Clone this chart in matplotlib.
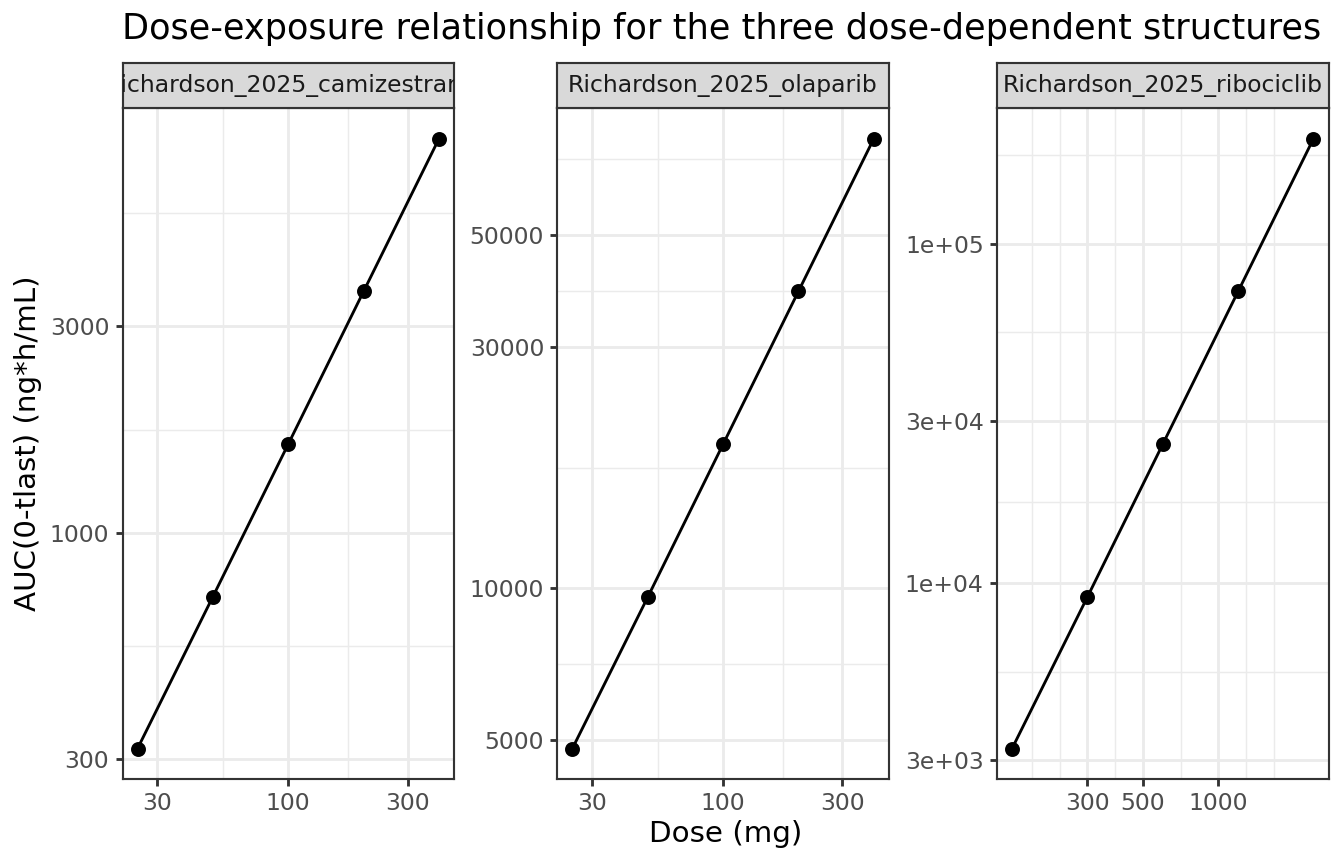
import numpy as np
import matplotlib.pyplot as plt


TITLE = "Dose-exposure relationship for the three dose-dependent structures"
PANEL_NAMES = [
    "Richardson_2025_camizestrant",
    "Richardson_2025_olaparib",
    "Richardson_2025_ribociclib",
]

# values
camizestrant_dose = [25, 50, 100, 200, 400]
camizestrant_auc = [318, 713, 1604, 3612, 8130]
olaparib_dose = [25, 50, 100, 200, 400]
olaparib_auc = [4820, 9600, 19260, 38640, 77430]
ribociclib_dose = [150, 300, 600, 1200, 2400]
ribociclib_auc = [3254, 9095, 25640, 72270, 203600]

x_breaks = [[30, 100, 300], [30, 100, 300], [300, 500, 1000]]
x_labels = [["30", "100", "300"], ["30", "100", "300"], ["300", "500", "1000"]]
y_breaks = [[300, 1000, 3000], [5000, 10000, 30000, 50000], [3000, 10000, 30000, 100000]]
y_labels = [
    ["300", "1000", "3000"],
    ["5000", "10000", "30000", "50000"],
    ["3e+03", "1e+04", "3e+04", "1e+05"],
]

GRID = "#EBEBEB"
DARK = "#333333"
TICK_TEXT = "#4D4D4D"
STRIP_FILL = "#D9D9D9"

W, H = 1344, 864


def log_limits(values):
    lo, hi = np.log10(min(values)), np.log10(max(values))
    pad = 0.05 * (hi - lo)
    return 10 ** (lo - pad), 10 ** (hi + pad)


def minor_breaks(breaks):
    # ggplot-style: extend by the first step, then add midpoints (log space)
    b = np.log10(breaks)
    step = b[1] - b[0]
    b = np.concatenate([[b[0] - step], b, [b[-1] + step]])
    mids = (b[:-1] + b[1:]) / 2
    return list(10 ** np.concatenate([[b[0], b[-1]], mids]))


doses = [camizestrant_dose, olaparib_dose, ribociclib_dose]
aucs = [camizestrant_auc, olaparib_auc, ribociclib_auc]
panel_left = [122.5, 557.3, 997.0]
panel_w = 331.5
panel_top, panel_bottom = 108.3, 779.0
strip_top = 62.7

fig = plt.figure(figsize=(7, 4.5), dpi=192)

for i in range(3):
    ax = fig.add_axes([
        panel_left[i] / W,
        1 - panel_bottom / H,
        panel_w / W,
        (panel_bottom - panel_top) / H,
    ])
    ax.set_xscale("log")
    ax.set_yscale("log")

    ax.plot(doses[i], aucs[i], color="black", linewidth=1.07, zorder=3)
    ax.plot(doses[i], aucs[i], "o", color="black", markersize=4.6, zorder=4)

    ax.set_xticks(x_breaks[i])
    ax.set_xticklabels(x_labels[i])
    ax.set_yticks(y_breaks[i])
    ax.set_yticklabels(y_labels[i])
    ax.set_xticks(minor_breaks(x_breaks[i]), minor=True)
    ax.set_yticks(minor_breaks(y_breaks[i]), minor=True)
    ax.set_xticklabels([], minor=True)
    ax.set_yticklabels([], minor=True)

    ax.set_xlim(*log_limits(doses[i]))
    ax.set_ylim(*log_limits(aucs[i]))

    ax.set_axisbelow(True)
    ax.grid(which="major", color=GRID, linewidth=1.07)
    ax.grid(which="minor", color=GRID, linewidth=0.53)
    ax.tick_params(which="major", length=2.75, width=1.07, color=DARK,
                   labelcolor=TICK_TEXT, labelsize=8.8, pad=2.2)
    ax.tick_params(which="minor", length=0)
    for sp in ax.spines.values():
        sp.set_color(DARK)
        sp.set_linewidth(0.8)

    strip = fig.add_axes([
        panel_left[i] / W,
        1 - panel_top / H,
        panel_w / W,
        (panel_top - strip_top) / H,
    ])
    strip.set_facecolor(STRIP_FILL)
    strip.set_xticks([])
    strip.set_yticks([])
    for sp in strip.spines.values():
        sp.set_color(DARK)
        sp.set_linewidth(0.8)
    strip.text(0.5, 0.5, PANEL_NAMES[i], ha="center", va="center",
               fontsize=8.8, color="#1A1A1A", clip_on=True,
               transform=strip.transAxes)

fig.text(122.5 / W, 1 - 39.5 / H, TITLE, fontsize=13.2, ha="left", va="baseline")
fig.text(725.7 / W, 1 - 842 / H, "Dose (mg)", fontsize=11, ha="center", va="baseline")
fig.text(28 / W, 1 - 443.7 / H, "AUC(0-tlast) (ng*h/mL)", fontsize=11,
         rotation=90, ha="center", va="center")

fig.savefig("out.png", dpi=192)
